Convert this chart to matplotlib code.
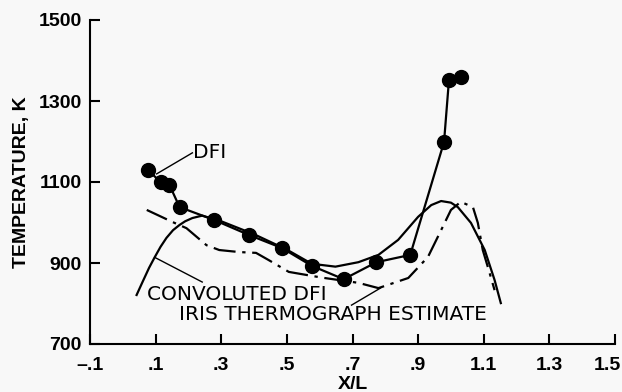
import matplotlib
matplotlib.use("Agg")
import matplotlib.pyplot as plt
from matplotlib.transforms import ScaledTranslation

# DFI measured points
dfi_x = [0.076, 0.115, 0.142, 0.173, 0.279, 0.385, 0.485, 0.576, 0.673, 0.773, 0.876, 0.979, 0.994, 1.03]
dfi_t = [1130, 1100, 1093, 1038, 1006, 969, 937, 893, 860, 902, 920, 1199, 1352, 1359]

# convoluted DFI (solid smooth curve)
conv_x = [0.042, 0.06, 0.08, 0.097, 0.115, 0.133, 0.153, 0.173, 0.19, 0.212, 0.242, 0.3, 0.4, 0.5,
          0.576, 0.648, 0.718, 0.779, 0.839, 0.9, 0.94, 0.97, 1.0, 1.021, 1.061, 1.103, 1.133, 1.152]
conv_t = [821, 853, 888, 914, 940, 962, 981, 994, 1003, 1011, 1017, 1003, 971, 933,
          898, 891, 902, 920, 957, 1014, 1043, 1053, 1049, 1038, 999, 932, 858, 801]

# IRIS thermograph estimate (dash-dot)
iris_x = [0.073, 0.152, 0.194, 0.255, 0.294, 0.355, 0.406, 0.445, 0.506, 0.606, 0.718, 0.779,
          0.87, 0.93, 0.97, 1.0, 1.03, 1.067, 1.082, 1.097, 1.118, 1.133]
iris_t = [1031, 1001, 986, 944, 932, 927, 925, 907, 878, 864, 851, 838,
          863, 915, 981, 1031, 1051, 1038, 999, 932, 875, 833]

xticks = [-0.1, 0.1, 0.3, 0.5, 0.7, 0.9, 1.1, 1.3, 1.5]
xticklabels = ["\u2013.1", ".1", ".3", ".5", ".7", ".9", "1.1", "1.3", "1.5"]
yticks = [700, 900, 1100, 1300, 1500]

bg = "#f8f8f8"
tick_font = ["Liberation Sans", "DejaVu Sans"]
note_font = ["DejaVu Sans"]

fig = plt.figure(figsize=(6.22, 3.92), dpi=100, facecolor=bg)
ax = fig.add_axes([90 / 622, 1 - 344 / 392, 525 / 622, 324 / 392], facecolor=bg)

ax.plot(conv_x, conv_t, color="black", lw=1.6)
ax.plot(iris_x, iris_t, color="black", lw=1.6, dashes=(10, 3, 1.5, 3))
ax.plot(dfi_x, dfi_t, color="black", lw=1.6, marker="o", markersize=10)

# labels with leader lines
ax.plot([0.103, 0.212], [1120, 1172], color="black", lw=1)
ax.text(0.214, 1172, "DFI", fontsize=14.5, family=note_font, va="center", ha="left")
ax.plot([0.097, 0.242], [914, 853], color="black", lw=1)
ax.text(0.074, 823, "CONVOLUTED DFI", fontsize=14.5, family=note_font, va="center", ha="left")
ax.plot([0.697, 0.785], [796, 838], color="black", lw=1)
ax.text(0.171, 772, "IRIS THERMOGRAPH ESTIMATE", fontsize=14.5, family=note_font,
        va="center", ha="left")

ax.set_xlim(-0.1, 1.5)
ax.set_ylim(700, 1500)
ax.set_xticks(xticks)
ax.set_xticklabels(xticklabels)
ax.set_yticks(yticks)
ax.spines["top"].set_visible(False)
ax.spines["right"].set_visible(False)
ax.spines["left"].set_linewidth(1.5)
ax.spines["bottom"].set_linewidth(1.5)
ax.tick_params(axis="y", direction="in", length=7, width=1.5, labelsize=14, pad=6)
ax.tick_params(axis="x", direction="in", length=7, width=1.5, labelsize=14, pad=9)
for lab in ax.get_xticklabels() + ax.get_yticklabels():
    lab.set_fontweight("bold")
    lab.set_family(tick_font)
last = ax.get_xticklabels()[-1]
last.set_transform(last.get_transform() + ScaledTranslation(-8 / 100, 0, fig.dpi_scale_trans))

ax.set_xlabel("X/L", fontsize=14, fontweight="bold", family=tick_font, labelpad=2)
ax.set_ylabel("TEMPERATURE, K", fontsize=14, fontweight="bold", family=tick_font, labelpad=6)

fig.savefig("out.png", dpi=100, facecolor=bg)
